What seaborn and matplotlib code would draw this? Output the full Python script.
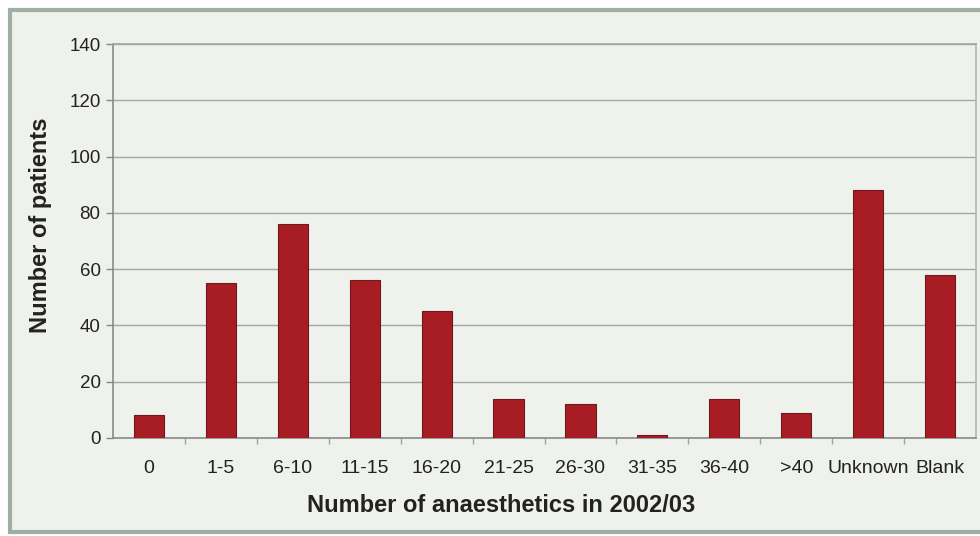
import matplotlib
matplotlib.use("Agg")
import matplotlib.pyplot as plt
import seaborn as sns
import pandas as pd
from matplotlib.patches import Rectangle

categories = ["0", "1-5", "6-10", "11-15", "16-20", "21-25", "26-30", "31-35",
              "36-40", ">40", "Unknown", "Blank"]
patients = [8, 55, 76, 56, 45, 14, 12, 1, 14, 9, 88, 58]
y_ticks = [0, 20, 40, 60, 80, 100, 120, 140]

sns.set_theme(style="white")
plt.rcParams['font.family'] = ['Liberation Sans', 'DejaVu Sans']

bg = "#eef1ec"
fig = plt.figure(figsize=(9.8, 5.36), dpi=100, facecolor="white")
frame = Rectangle((10 / 980, 4 / 536), 1.0, 522 / 536, transform=fig.transFigure,
                  facecolor=bg, edgecolor="#9db0a3", linewidth=3, zorder=-10)
fig.patches.append(frame)
ax = fig.add_axes([113 / 980, 98 / 536, 863 / 980, 394 / 536])
ax.set_zorder(1)
ax.set_facecolor(bg)

df = pd.DataFrame({"cat": categories, "n": patients})
sns.barplot(data=df, x="cat", y="n", order=categories, color="#a81c24",
            saturation=1, width=0.42, edgecolor="#6e1a1c", linewidth=0.8, ax=ax, zorder=3)

ax.set_ylim(0, 140)
ax.set_xlim(-0.5, len(categories) - 0.5)
ax.set_yticks(y_ticks)
ax.set_yticklabels([str(t) for t in y_ticks], fontsize=13.5, color="#222222")
ax.yaxis.grid(True, color="#a3a8a4", linewidth=1.0)
ax.set_axisbelow(True)
ax.tick_params(axis="y", which="major", left=True, length=5, width=1, color="#8a8a8a", pad=4)
ax.set_xticks(range(len(categories)))
ax.set_xticklabels(categories, fontsize=14, color="#222222")
ax.tick_params(axis="x", which="major", bottom=False, pad=10)
ax.set_xticks([i + 0.5 for i in range(len(categories) - 1)], minor=True)
ax.tick_params(axis="x", which="minor", bottom=True, length=4, width=1, color="#a0a0a0")

for side in ["left", "bottom"]:
    ax.spines[side].set_color("#8a8a8a")
    ax.spines[side].set_linewidth(1.2)
ax.spines["right"].set_color("#b5b8b5")
ax.spines["top"].set_color("#a3a8a4")

ax.set_xlabel("Number of anaesthetics in 2002/03", fontsize=17, fontweight="bold",
              color="#222222")
ax.xaxis.set_label_coords(0.4496, -0.142)
ax.set_ylabel("Number of patients", fontsize=17, fontweight="bold", color="#222222")
ax.yaxis.set_label_coords(-0.0707, 0.54)

fig.savefig("out.png", dpi=100, facecolor="white")
